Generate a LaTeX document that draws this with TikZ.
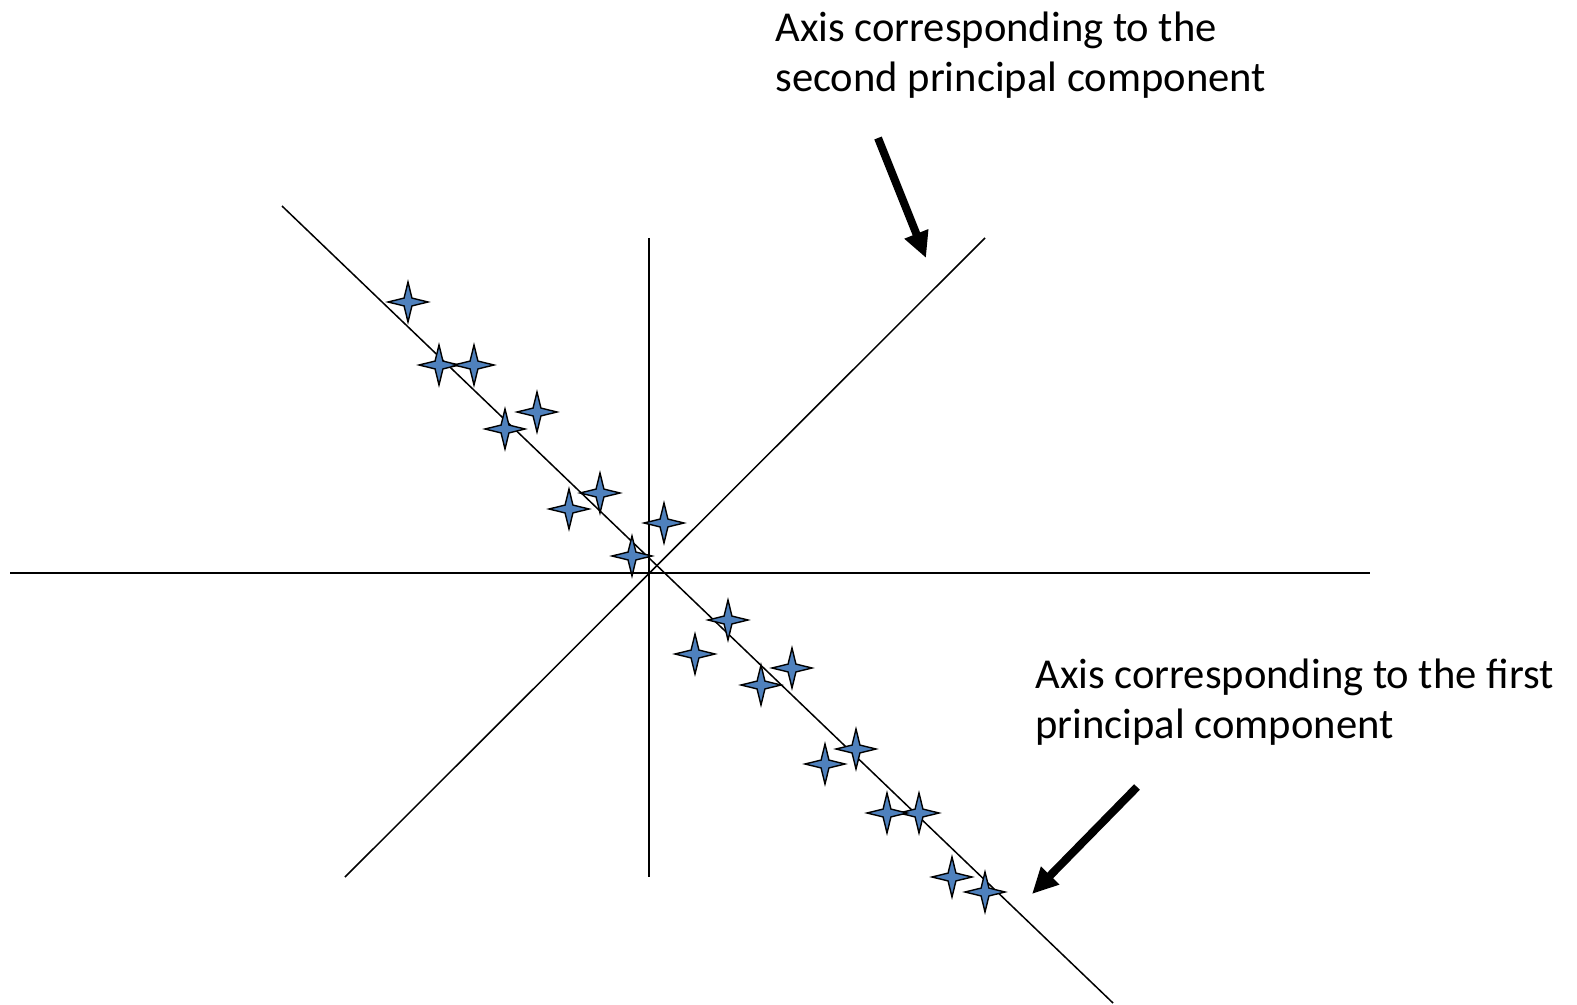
\documentclass[tikz,border=0pt]{standalone}
\usepackage{fontspec}
\setmainfont{Carlito}
\usepackage{tikz}
\usetikzlibrary{arrows.meta,positioning,shapes.geometric}
\definecolor{pointblue}{HTML}{4F81BD}

\begin{document}
\begin{tikzpicture}[
    x=0.5pt, y=-0.5pt,
    font=\fontsize{21.3}{25}\selectfont,
    axisline/.style={draw, line width=0.75pt},
    datapoint/.style={star, star points=4, star point ratio=3.6, draw, fill=pointblue, line width=0.7pt, minimum size=20pt, inner sep=0pt},
    bigarrow/.style={-{Triangle[length=13pt,width=12pt]}, line width=4pt},
    label/.style={align=left, anchor=base west, inner sep=0pt}
]
    \useasboundingbox (0,0) rectangle (1577,1005);

    % Axis end points
    \coordinate (hleft) at (10,573);
    \coordinate (hright) at (1370,573);
    \coordinate (vtop) at (649,238);
    \coordinate (vbottom) at (649,877);
    \coordinate (pc1top) at (282,206);
    \coordinate (pc1bottom) at (1113,1003);
    \coordinate (pc2bottom) at (345,877);
    \coordinate (pc2top) at (985,238);

    % Axes
    \draw[axisline] (hleft) -- (hright);
    \draw[axisline] (vtop) -- (vbottom);
    \draw[axisline] (pc1top) -- (pc1bottom);
    \draw[axisline] (pc2bottom) -- (pc2top);

    % Data points
    \foreach \px/\py [count=\i] in {408/302, 439/365, 474/365, 537/412, 505/429,
        600/493, 569/509, 664/523, 632/556, 728/620, 695/654, 792/668, 761/685,
        856/749, 825/764, 919/813, 887/813, 952/877, 985/892}
        \node[datapoint] (p\i) at (\px,\py) {};

    % Labels (anchored at the baseline of the last line)
    \node[label] (second) at (775,92) {Axis corresponding to the\\second principal component};
    \node[label] (first) at (1035,738) {Axis corresponding to the first\\principal component};

    % Arrows
    \coordinate (secondtail) at (878,138);
    \coordinate (secondtip) at (926,258);
    \coordinate (firsttail) at (1137,787);
    \coordinate (firsttip) at (1032,894);
    \draw[bigarrow] (secondtail) -- (secondtip);
    \draw[bigarrow] (firsttail) -- (firsttip);
\end{tikzpicture}
\end{document}
